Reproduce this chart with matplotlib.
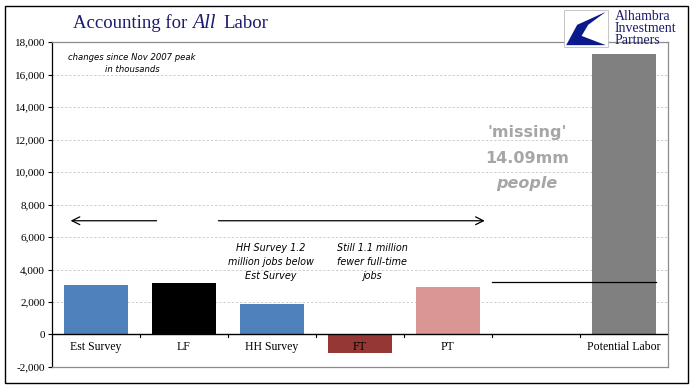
import numpy as np
import matplotlib.pyplot as plt
from matplotlib.patches import Rectangle, Polygon

# data (thousands, change since Nov 2007 peak)
categories = ["Est Survey", "LF", "HH Survey", "FT", "PT", "", "Potential Labor"]
values = [3050, 3170, 1880, -1120, 2920, 0, 17260]
colors = ["#4F81BD", "#000000", "#4F81BD", "#953735", "#D99694", "none", "#808080"]
yticks = list(range(-2000, 18001, 2000))
arrow_level = 7000
line_level = 3250

serif = "Liberation Serif"
navy = "#1C1C6E"
plt.rcParams['font.family'] = ['DejaVu Sans']

fig = plt.figure(figsize=(6.96, 3.92), dpi=100)
ax = fig.add_axes([0.0747, 0.0638, 0.885, 0.829])

x = np.arange(len(categories))
ax.bar(x, values, width=0.73, color=colors, zorder=3)

ax.set_xlim(-0.5, len(categories) - 0.5)
ax.set_ylim(-2000, 18000)
ax.set_yticks(yticks)
ax.set_yticklabels([f"{v:,}" for v in yticks], fontfamily=serif, fontsize=8)
ax.tick_params(axis='y', length=3, width=0.8, pad=2)
ax.set_xticks([])

# grid
for v in yticks[1:-1]:
    if v != 0:
        ax.axhline(v, color="#c8c8c8", lw=0.6, ls=(0, (3, 2)), zorder=1)
ax.axhline(0, color="black", lw=1.0, zorder=4)
for b in np.arange(0.5, len(categories) - 0.5, 1):
    ax.plot([b, b], [0, -180], color="black", lw=0.8, zorder=4)

for s in ["top", "right", "bottom"]:
    ax.spines[s].set_color("#8c8c8c")
    ax.spines[s].set_linewidth(0.9)
ax.spines["left"].set_color("black")
ax.spines["left"].set_linewidth(0.9)

# category labels just below zero line
for xi, c in zip(x, categories):
    ax.text(xi, -750, c, ha="center", va="center", fontfamily=serif, fontsize=8.5, zorder=5)

# arrows
ax.annotate("", xy=(-0.32, arrow_level), xytext=(0.72, arrow_level),
            arrowprops=dict(arrowstyle="->", lw=0.9, color="black", mutation_scale=14))
ax.annotate("", xy=(4.45, arrow_level), xytext=(1.36, arrow_level),
            arrowprops=dict(arrowstyle="->", lw=0.9, color="black", mutation_scale=14))
ax.plot([4.5, 6.36], [line_level, line_level], color="black", lw=0.9, zorder=4)

# annotations
ax.text(0.41, 16680, "changes since Nov 2007 peak\nin thousands", ha="center", va="center",
        fontsize=6.1, style="italic", linespacing=1.55)
ax.text(1.99, 4460, "HH Survey 1.2\nmillion jobs below\nEst Survey", ha="center", va="center",
        fontsize=6.9, style="italic", linespacing=1.5)
ax.text(3.14, 4460, "Still 1.1 million\nfewer full-time\njobs", ha="center", va="center",
        fontsize=6.9, style="italic", linespacing=1.5)
mcol = "#a6a6a6"
ax.text(4.9, 12460, "'missing'", ha="center", va="center", fontsize=11.5, fontweight="bold", color=mcol)
ax.text(4.9, 10860, "14.09mm", ha="center", va="center", fontsize=11.5, fontweight="bold", color=mcol)
ax.text(4.9, 9320, "people", ha="center", va="center", fontsize=11.5, fontweight="bold",
        style="italic", color=mcol)

# title
ty = 1 - 23 / 392
fig.text(73 / 696, ty, "Accounting for", fontfamily=serif, fontsize=13.5, color=navy, va="center")
fig.text(192 / 696, ty, "All", fontfamily=serif, fontsize=14.5, style="italic", color=navy, va="center")
fig.text(223 / 696, ty, "Labor", fontfamily=serif, fontsize=13.5, color=navy, va="center")

# logo
lx, ly, lw_, lh = 564 / 696, 1 - 47 / 392, 44 / 696, 37 / 392
fig.patches.append(Rectangle((lx, ly), lw_, lh, transform=fig.transFigure,
                             facecolor="white", edgecolor="#bbbbbb", lw=0.6))
fig.patches.append(Polygon([(lx + lw_ * 0.05, ly + lh * 0.05), (lx + lw_ * 0.3, ly + lh * 0.6),
                            (lx + lw_ * 0.95, ly + lh * 0.95), (lx + lw_ * 0.55, ly + lh * 0.6),
                            (lx + lw_ * 0.4, ly + lh * 0.3), (lx + lw_ * 0.95, ly + lh * 0.05)],
                           closed=True, transform=fig.transFigure, facecolor="#0A1A8C"))
fig.text(615 / 696, ly + lh / 2, "Alhambra\nInvestment\nPartners", fontfamily=serif,
         fontsize=10, color=navy, va="center", ha="left", linespacing=0.95)

# outer frame
fig.patches.append(Rectangle((5 / 696, 9 / 392), 683 / 696, 377 / 392, transform=fig.transFigure,
                             fill=False, edgecolor="black", lw=1.0))

fig.savefig("out.png", dpi=100)
